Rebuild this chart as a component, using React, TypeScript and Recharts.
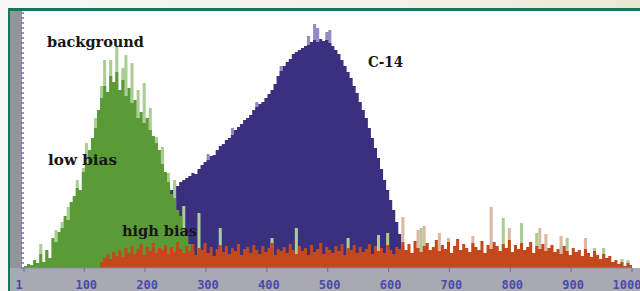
import { ComposedChart, Area, XAxis, YAxis } from 'recharts';

// channel grid: 200 bins of 5 channels, 1..1000
const binWidth = 5;
const binCount = 200;
const xTicks = [1, 100, 200, 300, 400, 500, 600, 700, 800, 900, 1000];
const yTicks = [0, 5, 10, 15, 20, 25, 30, 35, 40, 45, 50, 55, 60, 65, 70, 75, 80, 85, 90, 95, 100, 105, 110, 115, 120, 125, 130, 135, 140, 145, 150, 155, 160, 165, 170, 175, 180, 185, 190, 195, 200, 205, 210, 215, 220, 225, 230, 235, 240, 245, 250, 255];

// background (green), counts per bin starting at channel 1
const greenStart = 0;
const greenCounts = [
  2, 4, 3, 8, 5, 14, 6, 18, 10, 30,
  26, 36, 40, 52, 48, 66, 72, 80, 78, 96,
  104, 118, 130, 140, 158, 170, 182, 176, 192, 186,
  196, 178, 188, 172, 180, 165, 168, 150, 156, 145,
  150, 138, 132, 125, 118, 104, 96, 86, 74, 70,
  58, 52, 40, 34, 24, 16, 10, 6, 4, 3,
];
const greenSpikeChannels = [27, 37, 52, 62, 72, 88, 97, 104, 118, 126, 134, 142, 152, 162, 170, 180, 188, 196, 206, 218, 229, 240, 249, 262, 287, 323, 410, 450, 533, 581, 597, 652, 788, 819, 841, 895, 936, 952, 981, 991];
const greenSpikeHeights = [24, 16, 38, 46, 61, 88, 100, 125, 150, 182, 208, 208, 221, 200, 213, 205, 178, 185, 160, 131, 121, 95, 88, 62, 55, 40, 30, 40, 30, 33, 35, 40, 50, 45, 35, 30, 20, 20, 9, 8];

// C-14 (blue), starts at channel 241
const blueStart = 48;
const blueCounts = [
  78, 84, 82, 86, 88, 90, 92, 95, 94, 99,
  103, 106, 108, 112, 113, 118, 122, 124, 128, 130,
  133, 138, 141, 144, 148, 150, 153, 158, 161, 164,
  166, 170, 174, 178, 184, 192, 197, 202, 206, 209,
  214, 216, 218, 220, 222, 223, 226, 228, 226, 229,
  227, 228, 225, 222, 218, 214, 208, 202, 196, 190,
  182, 175, 166, 158, 150, 140, 130, 120, 110, 99,
  88, 78, 68, 58, 46, 34, 22, 8,
];
const blueSpikeChannels = [301, 341, 381, 421, 466, 476, 484, 496, 504];
const blueSpikeHeights = [114, 140, 166, 202, 232, 244, 240, 236, 238];

// high bias (red), starts at channel 126
const redStart = 25;
const redCounts = [
  6, 10, 14, 9, 16, 12, 18, 11, 20, 15,
  22, 14, 19, 24, 13, 21, 17, 25, 15, 20,
  18, 23, 14, 21, 16, 26, 19, 15, 22, 17,
  24, 13, 20, 18, 25, 15, 21, 12, 19, 23,
  16, 22, 14, 20, 17, 24, 13, 19, 21, 15,
  23, 18, 14, 22, 16, 20, 25, 13, 19, 17,
  21, 15, 24, 18, 14, 22, 17, 20, 13, 23,
  16, 19, 25, 14, 21, 18, 15, 22, 17, 24,
  13, 20, 18, 23, 15, 21, 16, 19, 24, 14,
  22, 17, 20, 15, 23, 18, 14, 21, 19, 26,
  18, 24, 15, 27, 20, 16, 22, 25, 18, 21,
  28, 17, 23, 19, 26, 15, 22, 29, 18, 24,
  20, 16, 25, 21, 18, 27, 15, 23, 19, 26,
  22, 17, 24, 20, 28, 16, 23, 19, 25, 18,
  21, 26, 15, 22, 19, 24, 17, 20, 23, 16,
  19, 14, 22, 17, 13, 20, 16, 18, 12, 19,
  15, 11, 17, 13, 9, 14, 10, 12, 6, 8,
  4, 6, 2, 5, 3,
];
const redSpikeChannels = [622, 648, 660, 685, 700, 740, 767, 796, 849, 857, 882, 925];
const redSpikeHeights = [51, 38, 42, 35, 30, 32, 61, 40, 40, 34, 32, 30];

function buildData() {
  const rows = [];
  for (let i = 0; i < binCount; i++) {
    rows.push({
      ch: 1 + i * binWidth,
      green: greenCounts[i - greenStart] ?? 0,
      blue: blueCounts[i - blueStart] ?? 0,
      red: redCounts[i - redStart] ?? 0,
      greenTip: 0,
      blueTip: 0,
      redTip: 0,
    });
  }
  const addSpikes = (key: string, chans: number[], heights: number[]) => {
    chans.forEach((c, k) => {
      const idx = Math.min(binCount - 1, Math.floor((c - 1) / binWidth));
      rows[idx][key] = Math.max(rows[idx][key], heights[k]);
    });
  };
  addSpikes('greenTip', greenSpikeChannels, greenSpikeHeights);
  addSpikes('blueTip', blueSpikeChannels, blueSpikeHeights);
  addSpikes('redTip', redSpikeChannels, redSpikeHeights);
  // closing point so the last step reaches channel 1000
  rows.push({ ...rows[rows.length - 1], ch: 1000 });
  return rows;
}

const data = buildData();

const XTick = (props: any) => {
  const { x, y, payload } = props;
  const dx = payload.value === 1 ? -5 : payload.value === 1000 ? -5 : 2;
  return (
    <text
      x={x + dx}
      y={y + 15}
      textAnchor="middle"
      fill="#4b4bab"
      fontFamily="DejaVu Sans Mono"
      fontWeight="bold"
      fontSize={12}
    >
      {payload.value}
    </text>
  );
};

// y axis has tick marks only, no labels
const NoTick = () => <g />;

const labelStyle = {
  fontFamily: 'DejaVu Serif',
  fontWeight: 'bold' as const,
  fontSize: 14,
  fill: '#161616',
};

export default function App() {
  return (
    <div
      style={{
        position: 'absolute',
        left: 0,
        top: 0,
        width: 640,
        height: 291,
        overflow: 'hidden',
        background: 'linear-gradient(90deg, #f7f7f4 0%, #f3f2ea 60%, #ebe8d2 100%)',
      }}
    >
      <div
        style={{
          position: 'absolute',
          left: 8,
          top: 8,
          width: 660,
          height: 320,
          borderLeft: '2px solid #0f7a5a',
          borderTop: '3px solid #0f7a5a',
          background: '#a9a9b2',
        }}
      />
      <div style={{ position: 'absolute', left: 10, top: 11, width: 12, height: 257, background: '#94949a' }} />
      <div style={{ position: 'absolute', left: 22, top: 11, width: 618, height: 257, background: '#ffffff' }} />
      <ComposedChart
        width={640}
        height={291}
        data={data}
        margin={{ top: 10, right: 8, bottom: 0, left: 0 }}
        style={{ position: 'absolute', left: 0, top: 0 }}
      >
        <XAxis
          dataKey="ch"
          type="number"
          domain={[1, 1000]}
          ticks={xTicks}
          interval={0}
          height={23}
          tickSize={4}
          tickLine={{ stroke: '#6a6ab8' }}
          axisLine={{ stroke: '#8a8aa6' }}
          tick={<XTick />}
          allowDataOverflow
        />
        <YAxis
          type="number"
          domain={[0, 258]}
          ticks={yTicks}
          interval={0}
          width={24}
          tick={<NoTick />}
          tickSize={3}
          tickLine={{ stroke: '#6c6cc8', strokeWidth: 1.5 }}
          axisLine={false}
          allowDataOverflow
        />
        <Area dataKey="blueTip" type="stepAfter" stroke="none" fill="#938bc6" fillOpacity={1} isAnimationActive={false} dot={false} activeDot={false} />
        <Area dataKey="blue" type="stepAfter" stroke="none" fill="#3b2f80" fillOpacity={1} isAnimationActive={false} dot={false} activeDot={false} />
        <Area dataKey="greenTip" type="stepAfter" stroke="none" fill="#a9cd92" fillOpacity={1} isAnimationActive={false} dot={false} activeDot={false} />
        <Area dataKey="green" type="stepAfter" stroke="none" fill="#5b9b37" fillOpacity={1} isAnimationActive={false} dot={false} activeDot={false} />
        <Area dataKey="redTip" type="stepAfter" stroke="none" fill="#dcb8a4" fillOpacity={1} isAnimationActive={false} dot={false} activeDot={false} />
        <Area dataKey="red" type="stepAfter" stroke="none" fill="#c4481c" fillOpacity={1} isAnimationActive={false} dot={false} activeDot={false} />
      </ComposedChart>
      <svg width={640} height={291} style={{ position: 'absolute', left: 0, top: 0, pointerEvents: 'none' }}>
        <text x={47} y={47} textLength={97} lengthAdjust="spacingAndGlyphs" {...labelStyle}>background</text>
        <text x={368} y={67} textLength={35} lengthAdjust="spacingAndGlyphs" {...labelStyle}>C-14</text>
        <text x={48} y={165} textLength={69} lengthAdjust="spacingAndGlyphs" {...labelStyle}>low bias</text>
        <text x={122} y={236} textLength={75} lengthAdjust="spacingAndGlyphs" {...labelStyle}>high bias</text>
      </svg>
    </div>
  );
}
